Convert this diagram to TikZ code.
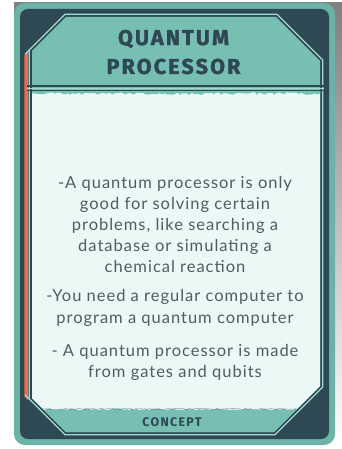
\documentclass[tikz,border=0pt]{standalone}
\usepackage{fontspec}
\usetikzlibrary{decorations.pathmorphing}
\newfontfamily\headfont{Fira Sans}[LetterSpace=10, FakeBold=1.6]
\newfontfamily\tagfont{Fira Sans}[LetterSpace=10]
\newfontfamily\bodyfont{Lato}[LetterSpace=6]

\definecolor{shade}{HTML}{2B1E2D}
\definecolor{cardteal}{HTML}{6BB3A7}
\definecolor{slate}{HTML}{2E4854}
\definecolor{panelteal}{HTML}{76BFB2}
\definecolor{rimline}{HTML}{A6DAD1}
\definecolor{paper}{HTML}{EAF8F6}
\definecolor{stripe}{HTML}{E2704F}
\definecolor{ink}{HTML}{2F4753}
\definecolor{bodyink}{HTML}{505C5F}

\tikzset{
  rim/.style={draw=rimline, line width=1.2pt},
  titletext/.style={text=ink, inner sep=0pt, font=\headfont\bfseries\fontsize{21.5}{21.5}\selectfont},
  tagtext/.style={text=ink, inner sep=0pt, font=\tagfont\bfseries\fontsize{12.5}{12.5}\selectfont},
  bodyline/.style={text=bodyink, inner sep=0pt, anchor=base, font=\bodyfont\fontsize{16.5}{16.5}\selectfont},
}

\begin{document}
\begin{tikzpicture}[x=1pt, y=-1pt]
\useasboundingbox (0,0) rectangle (342,449);
\fill[white] (0,0) rectangle (342,449);
\pgfmathsetseed{11}

% drop shadow and card body
\fill[shade] (14,3) rectangle (342,449);
\fill[cardteal, rounded corners=11pt] (14,3) rectangle (335,445);
\fill[slate, rounded corners=8pt] (20,9) rectangle (329,439);

% accent stripe on the left
\fill[stripe] (24.4,55.6) -- (28,52) -- (28,400) -- (24.4,396.4) -- cycle;

% light outline around the chamfered panel
\draw[rim] (64.9,14.3) -- (277.1,14.3) -- (322.7,59.9) -- (322.7,387.1)
  -- (275.1,434.7) -- (64.9,434.7) -- (29.3,399.1) -- (29.3,49.9) -- cycle;
\draw[rim] (29.3,49.9) -- (25,54.2);
\draw[rim] (29.3,399.1) -- (25,394.8);

% chamfered panel: header, paper body, footer band
\begin{scope}
  \clip (66,17) -- (276,17) -- (320,61) -- (320,386) -- (274,432)
    -- (66,432) -- (32,398) -- (32,51) -- cycle;
  \fill[panelteal] (20,9) rectangle (329,439);
  \fill[paper] (20,91) rectangle (329,410);
  \fill[panelteal, decoration={random steps, segment length=2.5pt, amplitude=1.3pt}]
    (20,90) -- (32,93.5) decorate{-- (320,93.5)} -- (329,90) -- cycle;
  \fill[panelteal, decoration={random steps, segment length=2.5pt, amplitude=1.1pt}]
    (20,432) -- (32,409.5) decorate{-- (320,409.5)} -- (329,432) -- cycle;
  \draw[slate, opacity=0.35, line width=0.8pt, decoration={random steps, segment length=2pt, amplitude=0.8pt}]
    decorate{(32,409) -- (320,409)};
\end{scope}

% separator under the header
\draw[slate, line width=2pt] (27,86) -- (324,86);
\draw[rimline, line width=1pt] (27,88.3) -- (324,88.3);
\draw[slate, line width=1.2pt] (27,90.2) -- (324,90.2);

% title
\node[titletext] (t1) at (173.5,39) {QUANTUM};
\node[titletext] (t2) at (173.5,66.5) {PROCESSOR};

% body text
\node[bodyline] (l1) at (175,188) {-A quantum processor is only};
\node[bodyline] (l2) at (175,209) {good for solving certain};
\node[bodyline] (l3) at (175,230) {problems, like searching a};
\node[bodyline] (l4) at (175,251) {database or simulating a};
\node[bodyline] (l5) at (175,272) {chemical reaction};
\node[bodyline] (l6) at (175,301) {-You need a regular computer to};
\node[bodyline] (l7) at (175,323) {program a quantum computer};
\node[bodyline] (l8) at (175,356) {- A quantum processor is made};
\node[bodyline] (l9) at (175,377) {from gates and qubits};

% footer label
\node[tagtext] (tag) at (172,422) {CONCEPT};
\end{tikzpicture}
\end{document}
